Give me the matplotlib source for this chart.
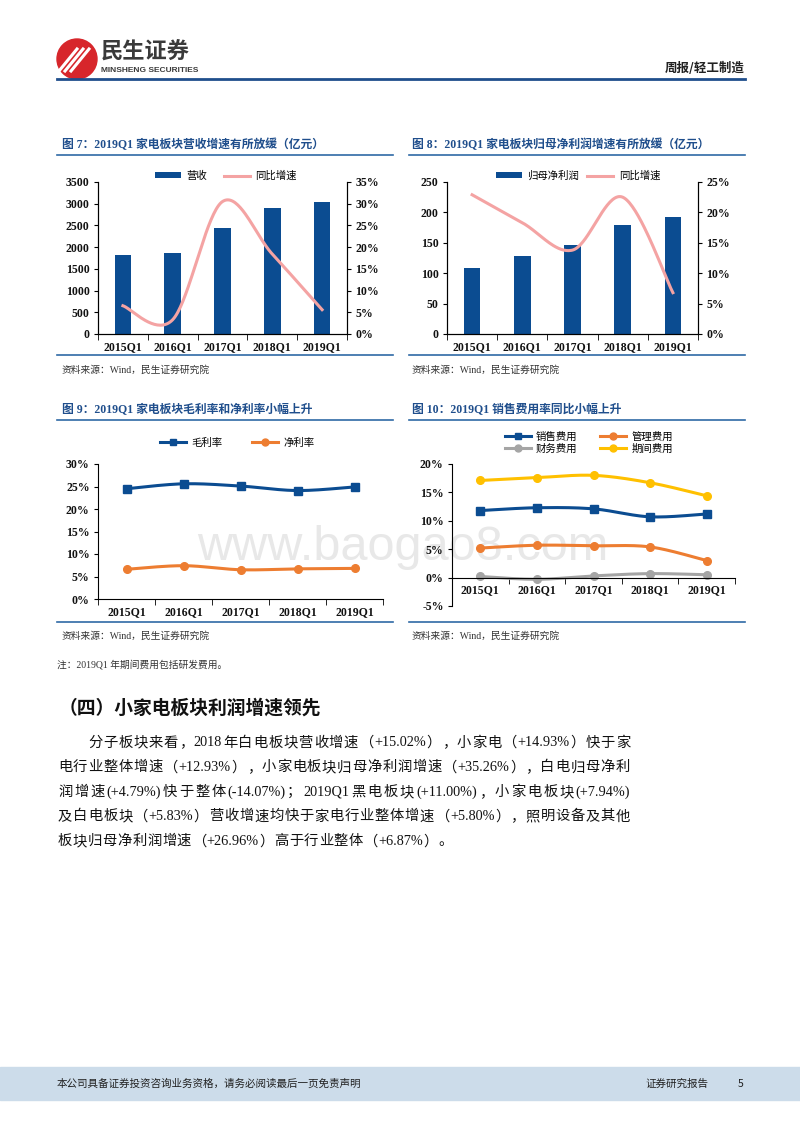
import numpy as np
import matplotlib.pyplot as plt
from matplotlib.lines import Line2D
from matplotlib.patches import Rectangle, Ellipse
from matplotlib.ticker import FuncFormatter

SERIF_CJK = ['Liberation Serif', 'Noto Sans CJK SC']
SANS_CJK = ['Noto Sans CJK SC', 'DejaVu Sans']
plt.rcParams['font.family'] = SERIF_CJK
plt.rcParams['axes.unicode_minus'] = False

# data
quarters = ['2015Q1', '2016Q1', '2017Q1', '2018Q1', '2019Q1']
revenue = [1810, 1870, 2440, 2890, 3050]
revenue_yoy = [6.5, 3.3, 30.5, 18.4, 5.6]
profit = [109, 129, 147, 180, 192]
profit_yoy = [22.9, 18.3, 13.8, 22.5, 6.8]
gross_margin = [24.5, 25.6, 25.1, 24.1, 24.9]
net_margin = [6.6, 7.4, 6.5, 6.7, 6.8]
sales_exp = [11.8, 12.3, 12.1, 10.7, 11.2]
admin_exp = [5.2, 5.7, 5.6, 5.4, 3.0]
fin_exp = [0.2, -0.3, 0.3, 0.7, 0.5]
period_exp = [17.1, 17.6, 18.0, 16.7, 14.4]

BLUE = '#0B4C91'
PINK = '#F4A3A3'
ORANGE = '#ED7D31'
GRAY = '#A5A5A5'
YELLOW = '#FFC000'
TITLE_C = '#1F4E8C'
RULE_C = '#2F6AA5'

W, H = 800, 1132
fig = plt.figure(figsize=(8, 11.32), dpi=100)


def fx(x):
    return x / W


def fy(y):
    return 1 - y / H


def hline(x0, x1, y, color=RULE_C, lw=1.2):
    fig.add_artist(Line2D([fx(x0), fx(x1)], [fy(y), fy(y)], color=color, lw=lw))


def smooth(y, n=40):
    # excel-like smoothed line through the points
    pts = np.column_stack([np.arange(len(y)), y]).astype(float)
    P = np.vstack([pts[0], pts, pts[-1]])
    t = np.linspace(0, 1, n)[:, None]
    out = []
    for i in range(1, len(P) - 2):
        p0, p1, p2, p3 = P[i - 1], P[i], P[i + 1], P[i + 2]
        c1 = p1 + (p2 - p0) / 6
        c2 = p2 - (p3 - p1) / 6
        out.append((1 - t) ** 3 * p1 + 3 * (1 - t) ** 2 * t * c1
                   + 3 * (1 - t) * t ** 2 * c2 + t ** 3 * p2)
    a = np.vstack(out)
    return a[:, 0], a[:, 1]


def style_ticks(ax, size=8.5):
    for lab in ax.get_xticklabels() + ax.get_yticklabels():
        lab.set_fontweight('bold')
        lab.set_fontsize(size)
        lab.set_color('#111111')


def cat_xaxis(ax):
    x = np.arange(len(quarters))
    ax.set_xlim(-0.5, len(quarters) - 0.5)
    ax.set_xticks(x)
    ax.set_xticklabels(quarters)
    ax.set_xticks(np.arange(len(quarters) + 1) - 0.5, minor=True)
    ax.tick_params(axis='x', which='major', length=0, pad=5)
    ax.tick_params(axis='x', which='minor', length=4, direction='out')


pct = FuncFormatter(lambda v, p: '%d%%' % v)

# ---------------- header ----------------
fig.add_artist(Ellipse((fx(77), fy(59)), 40 / W, 40 / H, transform=fig.transFigure,
                       color='#D7262B'))
for dx in (-8, -2, 4):
    fig.add_artist(Line2D([fx(67 + dx), fx(85 + dx)], [fy(71), fy(49)],
                          color='white', lw=2.2))
fig.text(fx(101), fy(52), '民生证券', family=SANS_CJK, fontsize=16,
         fontweight='bold', color='#3a3a3a', va='center')
fig.text(fx(101), fy(70), 'MINSHENG SECURITIES', family=['Liberation Sans'],
         fontsize=6, fontweight='bold', color='#3a3a3a', va='center')
fig.text(fx(745), fy(68), '周报/轻工制造', family=SANS_CJK, fontsize=9,
         fontweight='bold', color='#222222', ha='right', va='center')
hline(57, 745, 79, color='#1F4E8C', lw=2)

# ---------------- figure titles & rules ----------------
fig.text(fx(62), fy(145), '图 7：2019Q1 家电板块营收增速有所放缓（亿元）',
         fontsize=8.5, fontweight='bold', color=TITLE_C, va='center')
fig.text(fx(412), fy(145), '图 8：2019Q1 家电板块归母净利润增速有所放缓（亿元）',
         fontsize=8.5, fontweight='bold', color=TITLE_C, va='center')
fig.text(fx(62), fy(410), '图 9：2019Q1 家电板块毛利率和净利率小幅上升',
         fontsize=8.5, fontweight='bold', color=TITLE_C, va='center')
fig.text(fx(412), fy(410), '图 10：2019Q1 销售费用率同比小幅上升',
         fontsize=8.5, fontweight='bold', color=TITLE_C, va='center')
for y in (155, 355, 420, 622):
    hline(57, 393, y)
    hline(409, 745, y)
for x, y in ((62, 370), (412, 370), (62, 636), (412, 636)):
    fig.text(fx(x), fy(y), '资料来源：Wind，民生证券研究院', fontsize=7,
             color='#333333', va='center')
fig.text(fx(57), fy(665), '注：2019Q1 年期间费用包括研发费用。', fontsize=7,
         color='#333333', va='center')

# watermark
fig.text(fx(403), fy(548), 'www.baogao8.com', family=['Liberation Sans'],
         fontsize=35, color='#e8e8e8', ha='center', va='center', zorder=-5)

x = np.arange(len(quarters))
leg_prop = {'family': SANS_CJK, 'size': 7.5}
leg_kw = dict(loc='center', ncol=2, frameon=False, prop=leg_prop,
              handlelength=2.5, handletextpad=0.5)

# ---------------- chart 7 ----------------
ax1 = fig.add_axes([fx(98), fy(334), (347 - 98) / W, (334 - 182) / H])
ax1.patch.set_alpha(0)
b1 = ax1.bar(x, revenue, width=0.33, color=BLUE)
ax1.set_ylim(0, 3500)
ax1.set_yticks(np.arange(0, 3501, 500))
cat_xaxis(ax1)
ax1b = ax1.twinx()
l1, = ax1b.plot(*smooth(revenue_yoy), color=PINK, lw=2.2)
ax1b.set_ylim(0, 35)
ax1b.set_yticks(np.arange(0, 36, 5))
ax1b.yaxis.set_major_formatter(pct)
for a in (ax1, ax1b):
    a.spines['top'].set_visible(False)
    a.tick_params(axis='y', length=3, direction='out', pad=3)
    style_ticks(a)
ax1b.legend([b1, l1], ['营收', '同比增速'], bbox_to_anchor=(0.514, 1.04),
            handleheight=0.5, columnspacing=1.6, **leg_kw)

# ---------------- chart 8 ----------------
ax2 = fig.add_axes([fx(447), fy(334), (698 - 447) / W, (334 - 182) / H])
ax2.patch.set_alpha(0)
b2 = ax2.bar(x, profit, width=0.33, color=BLUE)
ax2.set_ylim(0, 250)
ax2.set_yticks(np.arange(0, 251, 50))
cat_xaxis(ax2)
ax2b = ax2.twinx()
l2, = ax2b.plot(*smooth(profit_yoy), color=PINK, lw=2.2)
ax2b.set_ylim(0, 25)
ax2b.set_yticks(np.arange(0, 26, 5))
ax2b.yaxis.set_major_formatter(pct)
for a in (ax2, ax2b):
    a.spines['top'].set_visible(False)
    a.tick_params(axis='y', length=3, direction='out', pad=3)
    style_ticks(a)
ax2b.legend([b2, l2], ['归母净利润', '同比增速'], bbox_to_anchor=(0.522, 1.04),
            handleheight=0.5, columnspacing=0.8, **leg_kw)

# ---------------- chart 9 ----------------
ax3 = fig.add_axes([fx(98), fy(599), (383 - 98) / W, (599 - 464) / H])
ax3.patch.set_alpha(0)
ax3.plot(*smooth(gross_margin), color=BLUE, lw=2.2)
ax3.plot(x, gross_margin, 's', color=BLUE, ms=5.5)
ax3.plot(*smooth(net_margin), color=ORANGE, lw=2.2)
ax3.plot(x, net_margin, 'o', color=ORANGE, ms=5.5)
ax3.set_ylim(0, 30)
ax3.set_yticks(np.arange(0, 31, 5))
ax3.yaxis.set_major_formatter(pct)
cat_xaxis(ax3)
for s in ('top', 'right'):
    ax3.spines[s].set_visible(False)
ax3.tick_params(axis='y', length=3, direction='out', pad=3)
style_ticks(ax3)
h3 = [Line2D([], [], color=BLUE, lw=2.2, marker='s', ms=5),
      Line2D([], [], color=ORANGE, lw=2.2, marker='o', ms=5)]
ax3.legend(h3, ['毛利率', '净利率'], bbox_to_anchor=(0.488, 1.155),
           columnspacing=2.9, **leg_kw)

# ---------------- chart 10 ----------------
ax4 = fig.add_axes([fx(452), fy(606), (735 - 452) / W, (606 - 464) / H])
ax4.patch.set_alpha(0)
series4 = [(sales_exp, BLUE, 's', '销售费用'), (fin_exp, GRAY, 'o', '财务费用'),
           (admin_exp, ORANGE, 'o', '管理费用'), (period_exp, YELLOW, 'o', '期间费用')]
h4 = []
for vals, c, m, lab in series4:
    ax4.plot(*smooth(vals), color=c, lw=2.2)
    ax4.plot(x, vals, m, color=c, ms=5.5)
    h4.append(Line2D([], [], color=c, lw=2.2, marker=m, ms=5))
ax4.set_ylim(-5, 20)
ax4.set_yticks(np.arange(-5, 21, 5))
ax4.yaxis.set_major_formatter(pct)
cat_xaxis(ax4)
ax4.spines['bottom'].set_position(('data', 0))
for s in ('top', 'right'):
    ax4.spines[s].set_visible(False)
ax4.tick_params(axis='y', length=3, direction='out', pad=3)
style_ticks(ax4)
ax4.legend(h4, [s[3] for s in series4], bbox_to_anchor=(0.484, 1.15),
           columnspacing=2.2, labelspacing=0.15, **leg_kw)

# ---------------- body text ----------------
fig.text(fx(59), fy(708), '（四）小家电板块利润增速领先', family=SANS_CJK,
         fontsize=13.5, fontweight='bold', color='#111111', va='center')
body = [
    '分子板块来看，2018 年白电板块营收增速（+15.02%），小家电（+14.93%）快于家',
    '电行业整体增速（+12.93%），小家电板块归母净利润增速（+35.26%），白电归母净利',
    '润增速(+4.79%)快于整体(-14.07%)；2019Q1 黑电板块(+11.00%)，小家电板块(+7.94%)',
    '及白电板块（+5.83%）营收增速均快于家电行业整体增速（+5.80%），照明设备及其他',
    '板块归母净利润增速（+26.96%）高于行业整体（+6.87%）。',
]


def tokens(s):
    # CJK characters one by one, latin runs kept together
    out, run = [], ''
    for ch in s:
        if ord(ch) < 128:
            run += ch
        else:
            if run:
                out.append(run)
                run = ''
            out.append(ch)
    if run:
        out.append(run)
    return [t.strip() for t in out if t.strip()]


renderer = fig.canvas.get_renderer()
body_fs = 10.3
right_edge = 630
for i, line in enumerate(body):
    x0 = 88 if i == 0 else 58
    y = fy(743 + i * 24.6)
    toks = tokens(line)
    arts = [fig.text(0, y, t, fontsize=body_fs, color='#111111', va='center')
            for t in toks]
    widths = [a.get_window_extent(renderer).width for a in arts]
    if i < len(body) - 1:
        gap = (right_edge - x0 - sum(widths)) / (len(toks) - 1)
    else:
        gap = 0.6
    xc = x0
    for a, w in zip(arts, widths):
        a.set_x(fx(xc))
        xc += w + gap

# ---------------- footer ----------------
fig.add_artist(Rectangle((0, fy(1100)), 1, (1100 - 1067) / H,
                         transform=fig.transFigure, color='#CCDCEA', zorder=-10))
fig.text(fx(57), fy(1084), '本公司具备证券投资咨询业务资格，请务必阅读最后一页免责声明',
         family=SANS_CJK, fontsize=7.6, color='#222222', va='center')
fig.text(fx(645), fy(1084), '证券研究报告', family=SANS_CJK, fontsize=7.6,
         color='#222222', va='center')
fig.text(fx(738), fy(1084), '5', family=SANS_CJK, fontsize=7.6,
         color='#222222', va='center')

fig.savefig('out.png', dpi=100)
